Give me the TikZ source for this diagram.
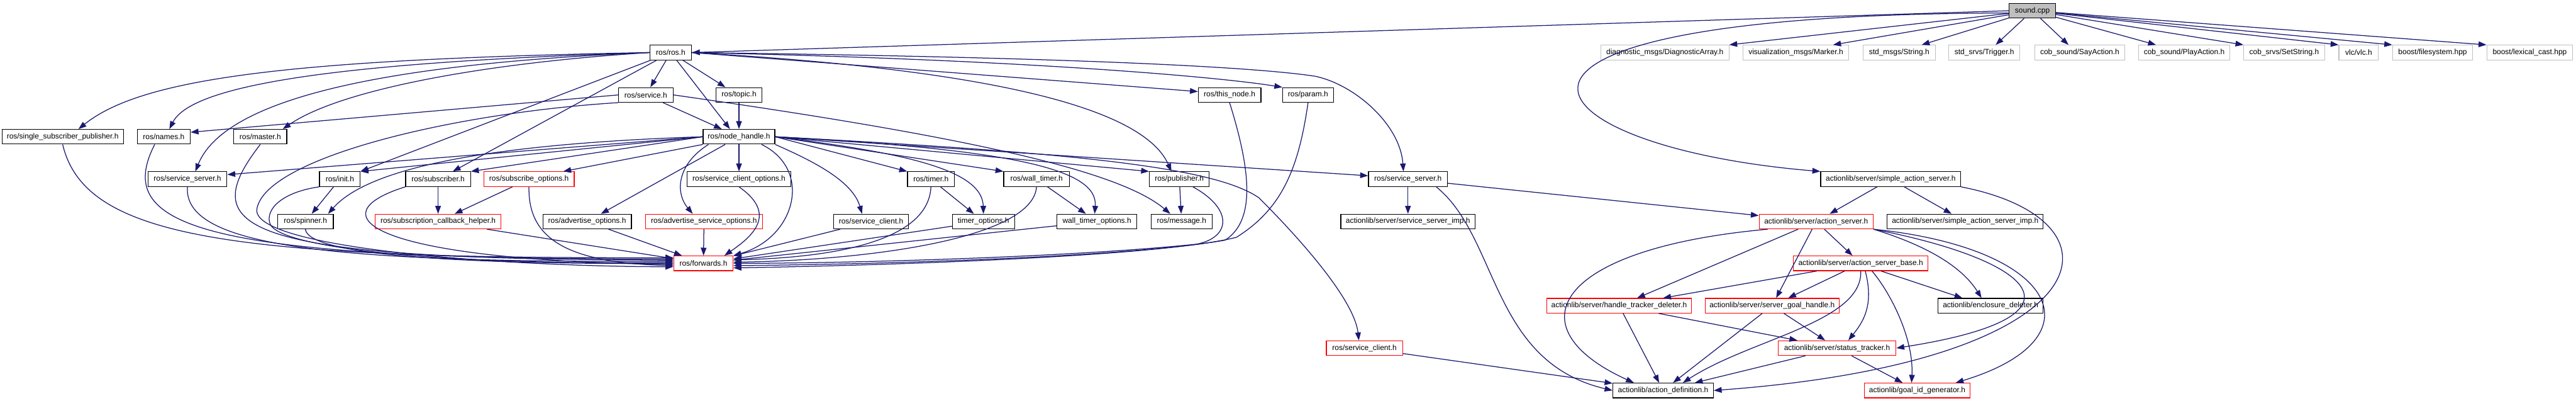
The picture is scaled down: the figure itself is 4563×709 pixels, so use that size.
\documentclass[tikz,border=0pt]{standalone}
\usepackage{fontspec}
\setmainfont{Liberation Sans}
\usetikzlibrary{arrows.meta}
\definecolor{IncBlue}{HTML}{191970}
\definecolor{IncRed}{HTML}{FF0000}
\definecolor{IncGrey}{HTML}{BFBFBF}

\begin{document}
\begin{tikzpicture}[
  x=0.5pt,
  y=-0.5pt,
  font=\fontsize{6.67}{8}\selectfont,
  filebox/.style={draw=black, fill=white, line width=0.65pt, inner xsep=3pt, inner ysep=0pt, minimum height=13pt, minimum width=#1},
  cutbox/.style={filebox=#1, draw=IncRed},
  sysbox/.style={filebox=#1, draw=IncGrey},
  inc/.style={draw=IncBlue, line width=0.7pt, -{Triangle[length=7pt,width=5pt]}}
]
\useasboundingbox (0,0) rectangle (4563,709);

% row 0 and 1
\node[filebox=41pt, fill=IncGrey] (sound) at (3600,19) {sound.cpp};
\node[filebox=37pt] (ros) at (1188,93) {ros/ros.h};
\node[sysbox=113.5pt] (diag) at (2949,93) {diagnostic\_msgs/DiagnosticArray.h};
\node[sysbox=93.5pt] (marker) at (3181,93) {visualization\_msgs/Marker.h};
\node[sysbox=64pt] (string) at (3364,93) {std\_msgs/String.h};
\node[sysbox=63pt] (trigger) at (3515,93) {std\_srvs/Trigger.h};
\node[sysbox=79.5pt] (say) at (3684,93) {cob\_sound/SayAction.h};
\node[sysbox=81pt] (play) at (3869,93) {cob\_sound/PlayAction.h};
\node[sysbox=71.5pt] (setstring) at (4046,93) {cob\_srvs/SetString.h};
\node[sysbox=35pt] (vlc) at (4178,93) {vlc/vlc.h};
\node[sysbox=71pt] (filesystem) at (4309,93) {boost/filesystem.hpp};
\node[sysbox=76pt] (lexical) at (4481,93) {boost/lexical\_cast.hpp};

% row 2 and 3
\node[filebox=48.5pt] (service) at (1144,168) {ros/service.h};
\node[filebox=41pt] (topic) at (1309,168) {ros/topic.h};
\node[filebox=55.5pt] (thisnode) at (2178,168) {ros/this\_node.h};
\node[filebox=45pt] (param) at (2317,168) {ros/param.h};
\node[filebox=107.5pt] (singlesub) at (111,242) {ros/single\_subscriber\_publisher.h};
\node[filebox=47pt] (names) at (290,242) {ros/names.h};
\node[filebox=47pt] (master) at (461,242) {ros/master.h};
\node[filebox=63.5pt] (nodehandle) at (1309,242) {ros/node\_handle.h};

% row 4
\node[filebox=70pt] (srvserverL) at (332,317) {ros/service\_server.h};
\node[filebox=36pt] (init) at (602,317) {ros/init.h};
\node[filebox=57.5pt] (subscriber) at (776,317) {ros/subscriber.h};
\node[cutbox=80pt] (subopts) at (937,317) {ros/subscribe\_options.h};
\node[filebox=92pt] (srvclientopts) at (1309,317) {ros/service\_client\_options.h};
\node[filebox=41.5pt] (timer) at (1649,317) {ros/timer.h};
\node[filebox=58pt] (walltimer) at (1836,317) {ros/wall\_timer.h};
\node[filebox=53pt] (publisher) at (2089,317) {ros/publisher.h};
\node[filebox=70pt] (srvserverR) at (2494,317) {ros/service\_server.h};
\node[filebox=124pt] (simpleas) at (3349,317) {actionlib/server/simple\_action\_server.h};

% row 5
\node[filebox=49.5pt] (spinner) at (541,392) {ros/spinner.h};
\node[cutbox=111.5pt] (subcbhelper) at (776,392) {ros/subscription\_callback\_helper.h};
\node[filebox=78.5pt] (advopts) at (1040,392) {ros/advertise\_options.h};
\node[cutbox=103.5pt] (advsrvopts) at (1247,392) {ros/advertise\_service\_options.h};
\node[filebox=66.5pt] (srvclient) at (1543,392) {ros/service\_client.h};
\node[filebox=55pt] (timeropts) at (1742,392) {timer\_options.h};
\node[filebox=70.5pt] (walltimeropts) at (1943,392) {wall\_timer\_options.h};
\node[filebox=54pt] (message) at (2093,392) {ros/message.h};
\node[filebox=119pt] (srvserverimp) at (2494,392) {actionlib/server/service\_server\_imp.h};
\node[cutbox=101pt] (actionserver) at (3217,392) {actionlib/server/action\_server.h};
\node[filebox=138pt] (simpleasimp) at (3481,392) {actionlib/server/simple\_action\_server\_imp.h};

% rows 6 to 9
\node[cutbox=52.5pt] (forwards) at (1246,466) {ros/forwards.h};
\node[cutbox=119pt] (asbase) at (3296,466) {actionlib/server/action\_server\_base.h};
\node[cutbox=128pt] (htdeleter) at (2868,541) {actionlib/server/handle\_tracker\_deleter.h};
\node[cutbox=118.5pt] (sgh) at (3139,541) {actionlib/server/server\_goal\_handle.h};
\node[filebox=93pt] (enclosure) at (3526,541) {actionlib/enclosure\_deleter.h};
\node[cutbox=67.5pt] (srvclientR) at (2417,616) {ros/service\_client.h};
\node[cutbox=104.5pt] (statustracker) at (3254,616) {actionlib/server/status\_tracker.h};
\node[filebox=89pt] (actiondef) at (2946,691) {actionlib/action\_definition.h};
\node[cutbox=93.5pt] (goalid) at (3396,691) {actionlib/goal\_id\_generator.h};

% sound.cpp
\draw[inc] (sound.west) -- (ros.east);
\draw[inc] ([yshift=-2pt]sound.west) .. controls (2500,25) and (2700,260) .. (simpleas.north west);
\draw[inc] (sound) -- (diag.north east);
\draw[inc] (sound) -- ([xshift=33pt]marker.north);
\draw[inc] (sound) -- ([xshift=20pt]string.north);
\draw[inc] (sound) -- ([xshift=10pt]trigger.north);
\draw[inc] (sound) -- ([xshift=-10pt]say.north);
\draw[inc] (sound) -- ([xshift=-25pt]play.north);
\draw[inc] (sound) -- (setstring.north west);
\draw[inc] (sound) -- (vlc.north west);
\draw[inc] (sound) -- (filesystem.north west);
\draw[inc] (sound) -- (lexical.north west);

% ros.h
\draw[inc] (ros.west) .. controls (500,105) and (250,140) .. ([xshift=14pt]singlesub.north);
\draw[inc] (ros.west) .. controls (600,110) and (340,150) .. ([xshift=5pt]names.north);
\draw[inc] (ros.west) .. controls (700,112) and (400,170) .. ([xshift=7pt]srvserverL.north);
\draw[inc] (ros.west) .. controls (850,112) and (600,160) .. ([xshift=20pt]master.north);
\draw[inc] (ros) -- (init.north east);
\draw[inc] (ros) -- ([xshift=13pt]subscriber.north);
\draw[inc] (ros) -- (service);
\draw[inc] (ros) -- ([xshift=-12pt]topic.north);
\draw[inc] (ros) -- ([xshift=-8pt]nodehandle.north);
\draw[inc] (ros.east) -- ([yshift=3pt]thisnode.west);
\draw[inc] (ros.east) .. controls (1800,105) and (2150,135) .. (param.north west);
\draw[inc] (ros.east) .. controls (1800,100) and (2200,115) .. (2330,135) .. controls (2400,150) and (2480,220) .. ([xshift=-4pt]srvserverR.north);
\draw[inc] (ros.east) .. controls (1700,120) and (2020,180) .. ([xshift=-7pt]publisher.north);

% service.h and topic.h
\draw[inc] (service) -- (nodehandle);
\draw[inc] (service.west) -- ([yshift=4pt]names.east);
\draw[inc] (service.east) .. controls (1700,240) and (1980,300) .. ([xshift=-10pt]message.north);
\draw[inc] (service.south west) .. controls (800,200) and (470,280) .. (455,370) .. controls (445,440) and (900,472) .. ([yshift=-3pt]forwards.west);
\draw[inc] (topic) -- (nodehandle);

% node_handle.h
\draw[inc] (nodehandle.west) -- ([yshift=4pt]srvserverL.east);
\draw[inc] (nodehandle.west) -- (init.north east);
\draw[inc] (nodehandle.west) -- (subscriber.north east);
\draw[inc] (nodehandle.south west) -- ([xshift=-10pt]subopts.north east);
\draw[inc] (nodehandle.west) .. controls (850,255) and (650,300) .. ([xshift=-5pt]spinner.north east);
\draw[inc] (nodehandle) -- (advopts);
\draw[inc] ([xshift=-27pt]nodehandle.south) .. controls (1200,290) and (1195,340) .. ([xshift=-10pt]advsrvopts.north);
\draw[inc] (nodehandle) -- (srvclientopts);
\draw[inc] ([xshift=20pt]nodehandle.south) .. controls (1440,300) and (1410,420) .. (forwards.north east);
\draw[inc] (nodehandle.south east) .. controls (1440,285) and (1510,320) .. ([xshift=-8pt]srvclient.north);
\draw[inc] (nodehandle.east) -- (timer.north west);
\draw[inc] (nodehandle.east) .. controls (1600,270) and (1740,300) .. (timeropts.north);
\draw[inc] (nodehandle.east) -- (walltimer.north west);
\draw[inc] (nodehandle.east) .. controls (1800,265) and (1945,300) .. ([xshift=-2pt]walltimeropts.north);
\draw[inc] (nodehandle.east) -- (publisher.north west);
\draw[inc] (nodehandle.east) -- ([yshift=3pt]srvserverR.west);
\draw[inc] (nodehandle.east) .. controls (1900,270) and (2150,295) .. (2230,350) .. controls (2330,450) and (2400,540) .. ([xshift=-5pt]srvclientR.north);

% into ros/forwards.h
\draw[inc] (singlesub.south) .. controls (150,420) and (400,458) .. ([yshift=5pt]forwards.west);
\draw[inc] ([xshift=-8pt]names.south) .. controls (200,400) and (350,460) .. ([yshift=4pt]forwards.west);
\draw[inc] (master.south) .. controls (350,400) and (400,460) .. ([yshift=3pt]forwards.west);
\draw[inc] (srvserverL.south) .. controls (325,430) and (550,466) .. ([yshift=2pt]forwards.west);
\draw[inc] (init.south west) .. controls (500,340) and (470,370) .. (478,395) .. controls (490,440) and (800,470) .. ([yshift=1pt]forwards.west);
\draw[inc] (spinner.south) .. controls (545,450) and (800,468) .. (forwards.west);
\draw[inc] (subscriber.south west) .. controls (560,380) and (650,460) .. ([yshift=-1pt]forwards.west);
\draw[inc] (subopts.south) .. controls (935,420) and (1000,465) .. ([yshift=-2pt]forwards.west);
\draw[inc] (subcbhelper) -- (forwards);
\draw[inc] (advopts) -- (forwards);
\draw[inc] (advsrvopts) -- (forwards);
\draw[inc] (srvclientopts.south) .. controls (1380,380) and (1330,420) .. ([xshift=-8pt]forwards.north east);
\draw[inc] (srvclient) -- (forwards);
\draw[inc] (timer.south) .. controls (1645,420) and (1500,455) .. ([yshift=3pt]forwards.east);
\draw[inc] (timeropts) -- (forwards);
\draw[inc] (walltimer.south) .. controls (1830,420) and (1550,460) .. ([yshift=1pt]forwards.east);
\draw[inc] (walltimeropts) -- (forwards);
\draw[inc] ([xshift=12pt]publisher.south) .. controls (2185,370) and (2180,420) .. (2120,432) .. controls (1900,455) and (1500,466) .. (forwards.east);
\draw[inc] (thisnode.south) .. controls (2215,300) and (2225,390) .. (2170,425) .. controls (2000,455) and (1550,468) .. ([yshift=-2pt]forwards.east);
\draw[inc] (param.south) .. controls (2300,300) and (2270,370) .. (2190,420) .. controls (2050,455) and (1550,470) .. ([yshift=-4pt]forwards.east);

% other roscpp headers
\draw[inc] (init) -- (spinner);
\draw[inc] (subscriber) -- (subcbhelper);
\draw[inc] (subopts) -- (subcbhelper);
\draw[inc] (timer) -- (timeropts);
\draw[inc] (walltimer) -- (walltimeropts);
\draw[inc] (publisher) -- (message);

% actionlib
\draw[inc] (srvserverR) -- (srvserverimp);
\draw[inc] (srvserverR) -- (actionserver);
\draw[inc] ([xshift=25pt]srvserverR.south) .. controls (2655,420) and (2640,640) .. (actiondef.west);
\draw[inc] (simpleas) -- (actionserver);
\draw[inc] (simpleas) -- (simpleasimp);
\draw[inc] (simpleas.south east) .. controls (3780,390) and (3730,640) .. (actiondef.east);
\draw[inc] (actionserver) -- (asbase);
\draw[inc] (actionserver) -- (htdeleter);
\draw[inc] (actionserver) -- (sgh);
\draw[inc] ([xshift=-43pt]actionserver.south) .. controls (2750,440) and (2680,580) .. ([xshift=-26pt]actiondef.north);
\draw[inc] (actionserver.south east) .. controls (3430,440) and (3480,480) .. ([xshift=-8pt]enclosure.north);
\draw[inc] (actionserver.south east) .. controls (3600,460) and (3720,560) .. (statustracker.east);
\draw[inc] (actionserver.south east) .. controls (3650,440) and (3720,600) .. ([xshift=-13pt]goalid.north east);
\draw[inc] (asbase) -- (htdeleter);
\draw[inc] (asbase) -- (sgh);
\draw[inc] (asbase.south) .. controls (3300,570) and (3100,600) .. ([xshift=17.5pt]actiondef.north);
\draw[inc] ([xshift=4pt]asbase.south) .. controls (3320,540) and (3300,570) .. ([xshift=10pt]statustracker.north);
\draw[inc] ([xshift=10pt]asbase.south) .. controls (3350,520) and (3390,600) .. ([xshift=-5pt]goalid.north);
\draw[inc] ([xshift=18pt]asbase.south) -- ([xshift=-25pt]enclosure.north);
\draw[inc] (htdeleter) -- (actiondef);
\draw[inc] (htdeleter) -- (statustracker);
\draw[inc] (sgh) -- (actiondef);
\draw[inc] (sgh) -- (statustracker);
\draw[inc] (statustracker) -- (actiondef);
\draw[inc] (statustracker) -- (goalid);
\draw[inc] (srvclientR) -- (actiondef);
\end{tikzpicture}
\end{document}
